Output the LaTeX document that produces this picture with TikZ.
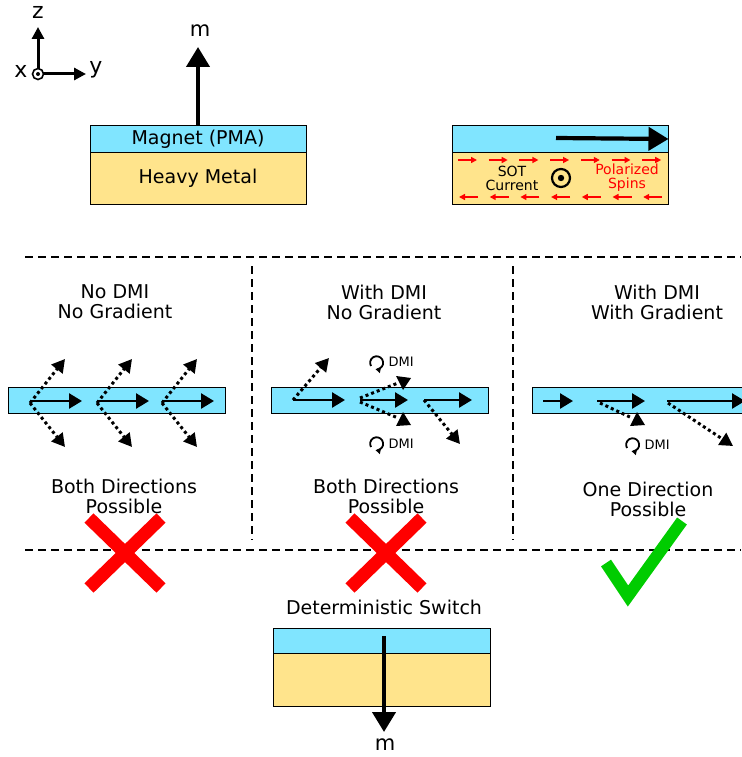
\documentclass[tikz,border=0pt]{standalone}
\usepackage{fontspec}
\setmainfont{DejaVu Sans}
\usetikzlibrary{arrows.meta}
\definecolor{magc}{RGB}{128,229,255}
\definecolor{hmc}{RGB}{255,228,140}
\definecolor{chk}{RGB}{0,204,0}
\begin{document}
\begin{tikzpicture}[x=1pt,y=-1pt,
  bigarrow/.style={line width=4.2pt,-{Triangle[length=20pt,width=23pt]}},
  midarrow/.style={line width=2.6pt,-{Triangle[length=13pt,width=15pt]}},
  dotarrow/.style={line width=3pt,dash pattern=on 3pt off 3pt,-{Triangle[length=13pt,width=14pt]}},
  dotline/.style={line width=3pt,dash pattern=on 3pt off 3pt},
  redarrow/.style={red,line width=1.6pt,-{Triangle[length=6pt,width=6pt]}},
  layer/.style={draw=black,line width=1pt,inner sep=0pt,minimum width=216pt},
  maglayer/.style={layer,fill=magc,minimum height=26pt},
  hmlayer/.style={layer,fill=hmc,minimum height=52pt},
  sepline/.style={line width=2pt,dash pattern=on 8pt off 5pt},
  title/.style={font=\fontsize{19}{20}\selectfont,align=center},
  dmi/.style={font=\fontsize{13}{14}\selectfont,anchor=west},
  rot/.style={line width=1.8pt,-{Triangle[length=5pt,width=6pt]}}
]
\useasboundingbox (0,0) rectangle (741,757);

% axes
\coordinate (O) at (38,74);
\coordinate (zt) at (38,27);
\coordinate (yt) at (86,74);
\draw[line width=3pt,-{Triangle[length=12pt,width=12pt]}] (O) -- (zt);
\draw[line width=3pt,-{Triangle[length=12pt,width=12pt]}] (O) -- (yt);
\node[draw,circle,fill=white,line width=1.6pt,minimum size=11pt,inner sep=0pt] (xo) at (O) {};
\fill (O) circle (2pt);
\node[font=\fontsize{22}{24}\selectfont] (zl) at (38,12) {z};
\node[font=\fontsize{22}{24}\selectfont] (yl) at (96,70) {y};
\node[font=\fontsize{22}{24}\selectfont] (xl) at (21,71) {x};

% top-left stack
\node[maglayer,font=\fontsize{19}{20}\selectfont] (mag1) at (198,139) {Magnet (PMA)};
\node[hmlayer,font=\fontsize{19}{20}\selectfont] (hm1) at (198,178) {Heavy Metal};
\coordinate (m1t) at (198,47);
\draw[bigarrow] (mag1.north) -- (m1t);
\node[font=\fontsize{21}{22}\selectfont] (m1) at (200,31) {m};

% top-right stack
\node[maglayer] (mag2) at (560,139) {};
\node[hmlayer] (hm2) at (560,178) {};
\coordinate (a2s) at (556,138);
\draw[bigarrow] (a2s) -- (mag2.east);
\foreach \i in {0,...,6}{
  \draw[redarrow] (458+30.7*\i,160) -- (477+30.7*\i,160);
  \draw[redarrow] (478+30.7*\i,197) -- (459+30.7*\i,197);
}
\node[font=\fontsize{14}{14}\selectfont,align=center] (sot) at (512,178) {SOT\\Current};
\node[font=\fontsize{14}{14}\selectfont,align=center,text=red] (pol) at (627,178) {Polarized\\Spins};
\node[draw,circle,fill=hmc,line width=2.2pt,minimum size=18pt,inner sep=0pt] (cur) at (561,178) {};
\fill (cur) circle (3.2pt);

% separators
\draw[sepline] (25,257) -- (741,257);
\draw[sepline] (25,550) -- (741,550);
\draw[sepline] (252,266) -- (252,540);
\draw[sepline] (513,266) -- (513,540);

% titles
\node[title] (t1) at (115,302) {No DMI\\No Gradient};
\node[title] (t2) at (384,302) {With DMI\\No Gradient};
\node[title] (t3) at (657,302) {With DMI\\With Gradient};

% strips
\node[layer,fill=magc,minimum width=217pt,minimum height=26pt] (s1) at (116.5,400.5) {};
\node[layer,fill=magc,minimum width=217pt,minimum height=26pt] (s2) at (380,400.5) {};
\node[layer,fill=magc,minimum width=230pt,minimum height=26pt] (s3) at (647,400.5) {};

% strip 1 arrows
\foreach \s in {30,97,162}{
  \draw[dotarrow] (\s,403) -- (\s+35,359);
  \draw[dotarrow] (\s,403) -- (\s+35,447);
  \draw[midarrow] (\s,401) -- (\s+52,401);
}

% strip 2 arrows
\draw[dotarrow] (293,400) -- (329,358);
\draw[midarrow] (293,400) -- (345,400);
\draw[dotline] (360,398) -- (398,383);
\fill (396,376) -- (411,378) -- (403,390) -- cycle;
\draw[dotline] (360,402) -- (398,418);
\fill (403,412) -- (411,425) -- (396,426) -- cycle;
\draw[midarrow] (360,400) -- (408,400);
\draw[dotarrow] (424,400) -- (460,444);
\draw[midarrow] (424,400) -- (472,400);

% DMI labels
\draw[rot] (371,366) arc[start angle=210,end angle=-100,radius=6.5pt];
\node[dmi] (d1) at (385,362) {DMI};
\draw[rot] (371,447) arc[start angle=210,end angle=-100,radius=6.5pt];
\node[dmi] (d2) at (385,444) {DMI};
\draw[rot] (627,448) arc[start angle=210,end angle=-100,radius=6.5pt];
\node[dmi] (d3) at (641,445) {DMI};

% strip 3 arrows
\draw[midarrow] (543,401) -- (573,401);
\draw[dotline] (600,403) -- (632,418);
\fill (637,412) -- (645,425) -- (630,426) -- cycle;
\draw[midarrow] (597,401) -- (645,401);
\draw[dotarrow] (668,403) -- (733,446);
\draw[midarrow] (667,401) -- (745,401);

% outcome labels
\node[title] (o1) at (124,496) {Both Directions\\Possible};
\node[title] (o2) at (386,496) {Both Directions\\Possible};
\node[title] (o3) at (648,499) {One Direction\\Possible};

% marks
\draw[red,line width=13pt] (89,518) -- (161,588) (161,518) -- (89,588);
\draw[red,line width=13pt] (350,518) -- (422,588) (422,518) -- (350,588);
\draw[chk,line width=12pt,line join=miter] (606,563) -- (628,596) -- (682,521);

% deterministic switch
\node[font=\fontsize{19}{20}\selectfont] (ds) at (384,607) {Deterministic Switch};
\node[layer,fill=magc,minimum width=217pt,minimum height=25pt] (mag3) at (381.5,640.5) {};
\node[hmlayer,minimum width=217pt,minimum height=53pt] (hm3) at (381.5,679.5) {};
\coordinate (m3s) at (384,636);
\coordinate (m3e) at (384,732);
\draw[bigarrow] (m3s) -- (m3e);
\node[font=\fontsize{21}{22}\selectfont] (m3) at (385,745) {m};
\end{tikzpicture}
\end{document}
